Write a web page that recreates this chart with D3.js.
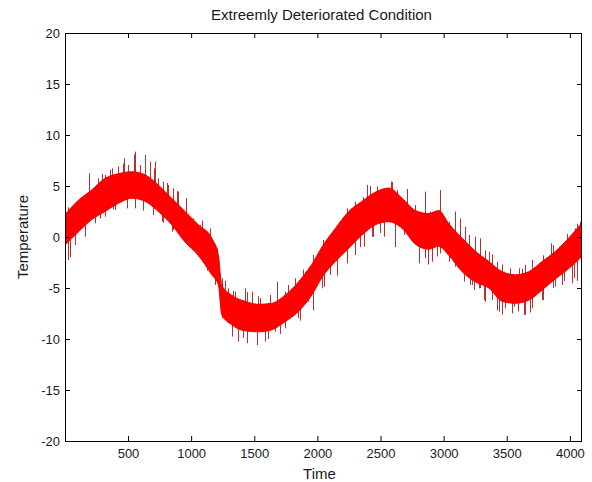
<!DOCTYPE html>
<html>
<head>
<meta charset="utf-8">
<script src="https://cdn.jsdelivr.net/npm/d3@7"></script>
<style>
  html, body { margin: 0; padding: 0; background: #fff; }
  svg { display: block; }
  text { font-family: "Liberation Sans", Arial, sans-serif; fill: #1a1a1a; }
</style>
</head>
<body>
<svg id="chart" width="592" height="482"></svg>
<script>
// ---- data ----
const titleText = "Extreemly Deteriorated Condition";
const xLabel = "Time";
const yLabel = "Temperature";
const xTicks = [500, 1000, 1500, 2000, 2500, 3000, 3500, 4000];
const yTicks = [-20, -15, -10, -5, 0, 5, 10, 15, 20];

// dense band of the noisy signal: sample times and the core band's upper / lower edges
const bandTimes = [1, 107, 212, 318, 424, 529, 635, 740, 846, 952, 1057, 1163, 1216, 1242, 1321, 1427, 1533, 1638, 1744, 1850, 1955, 2040, 2143, 2248, 2354, 2460, 2565, 2671, 2776, 2882, 2961, 3041, 3146, 3252, 3358, 3463, 3569, 3674, 3780, 3886, 3991, 4096];
const bandUpper = [2.2, 3.6, 4.6, 5.75, 6.2, 6.4, 6.1, 5.1, 3.8, 2.5, 1.2, -0.1, -1.8, -4.7, -5.7, -6.3, -6.6, -6.5, -5.7, -4.4, -2.7, -0.9, 0.85, 2.5, 3.5, 4.4, 4.8, 3.8, 2.6, 2.3, 2.6, 1.3, -0.1, -1.4, -2.4, -3.4, -3.7, -3.4, -2.4, -1.4, -0.1, 1.4];
const bandLower = [-0.8, 0.5, 1.7, 2.5, 3.3, 3.8, 3.5, 2.5, 1.2, -0.5, -1.8, -3.7, -4.7, -7.6, -8.6, -9.2, -9.3, -9.1, -8.3, -7.3, -5.7, -3.9, -2.4, -1.1, 0.2, 1.2, 1.5, 0.85, -0.7, -1.2, -0.9, -1.8, -3.4, -4.4, -5.0, -6.3, -6.5, -6.2, -5.2, -4.1, -3.1, -1.9];

// isolated noise spikes that stick out of the band: time and value
const spikeTimes = [
  67, 120, 191, 265, 318, 371, 424, 471, 503, 556, 595, 635, 674, 709, 740, 780, 820, 859, 899, 957, 1018, 1071, 1150, 1203,
  1242, 1295, 1348, 1427, 1480, 1546, 1625, 1683, 1744, 1823, 1903, 1969, 2048,
  27, 80, 159, 239, 318, 397, 490, 556, 622, 701, 767, 846, 925, 991, 1057, 1137, 1189,
  1242, 1321, 1374, 1440, 1520, 1586, 1665, 1744, 1850, 1929, 2035,
  2090, 2156, 2235, 2301, 2394, 2420, 2473, 2526, 2584, 2631, 2710, 2776, 2850, 2895, 2975, 3041, 3093, 3133,
  3199, 3252, 3291, 3358, 3423, 3476, 3529, 3595, 3648, 3701, 3767, 3854, 3912, 3991, 4044, 4084,
  2050, 2103, 2156, 2235, 2301, 2367, 2433, 2526, 2618, 2684, 2750, 2808, 2856, 2909, 2975, 3041, 3093,
  3159, 3225, 3278, 3331, 3384, 3437, 3490, 3556, 3635, 3701, 3780, 3886, 3938, 4018,
  27, 194, 292, 358, 463, 548, 714, 806, 886, 960, 1084,
  41, 278, 384, 622, 780, 859, 1137,
  1269, 1335, 1440, 1533, 1683, 1771, 1884, 2061, 2153, 2259, 2365,
  1124, 1322, 1414, 1612, 1705, 1863, 1969, 2153, 2233, 2338, 2444,
  2418, 2471, 2589, 2708, 2853, 2972, 3250, 3329,
  2497, 2616, 2801, 2880, 2946, 3210, 3289,
  3171, 3382, 3461, 3620, 3699, 3791, 3870, 3976, 4055,
  3237, 3316, 3421, 3461, 3540, 3593, 3646, 3686, 3791, 3870, 3950, 4029, 4055];
const spikeValues = [
  2.97, 3.46, 6.24, 5.75, 6.08, 6.73, 6.90, 7.71, 7.06, 8.37, 7.06, 8.04, 7.39, 6.73, 5.75, 5.43, 5.10, 4.77, 4.45, 3.79, 1.83, 1.18, 0.85, -1.11,
  -4.05, -5.03, -5.36, -5.03, -5.36, -6.01, -5.69, -4.38, -5.36, -4.05, -3.40, -1.76, -0.29,
  -2.25, -0.78, 0.03, 1.34, 1.99, 2.65, 2.81, 2.81, 2.97, 2.16, 1.50, 0.52, 0.20, -0.78, -1.93, -2.74, -4.71,
  -7.97, -9.77, -10.26, -10.42, -10.59, -10.26, -9.28, -8.95, -7.97, -6.34, -5.03,
  -0.13, 1.18, 2.81, 3.47, 5.10, 4.94, 4.94, 4.45, 5.43, 4.61, 4.61, 3.14, 4.45, 2.49, 4.61, 1.50, 2.49, 1.83,
  0.20, 0.03, -0.13, -1.44, -2.42, -3.40, -3.07, -3.07, -2.74, -2.25, -2.58, -0.62, -0.95, -0.13, 0.85, 1.50,
  -4.87, -3.72, -3.72, -2.58, -1.76, -0.95, 0.03, 0.03, -0.95, 0.20, -0.46, -2.58, -2.09, -2.42, -1.60, -2.42, -2.91,
  -4.38, -4.70, -5.03, -6.34, -6.17, -7.32, -6.99, -6.83, -7.65, -6.99, -6.17, -4.87, -4.70, -4.54,
  2.9, 5.3, 6.2, 6.6, 7.2, 8.1, 7.4, 5.3, 4.5, 3.5, 1.6,
  -2.0, 1.8, 2.7, 2.6, 1.4, 0.7, -2.9,
  -4.3, -5.3, -5.4, -5.8, -4.6, -4.7, -3.2, -0.4, 0.8, 2.6, 3.9,
  -3.3, -9.6, -9.9, -10.0, -9.5, -8.2, -7.2, -3.8, -2.5, -1.0, 0.0,
  5.0, 4.9, 5.4, 4.7, 4.3, 4.6, -0.2, -1.3,
  0.4, -1.0, -2.4, -2.7, -1.9, -4.7, -5.0,
  1.0, -1.7, -2.7, -3.1, -2.7, -1.8, -0.8, 0.3, 1.3,
  -5.2, -6.2, -7.2, -7.6, -7.5, -7.3, -7.6, -7.4, -6.2, -5.0, -4.3, -4.0, -4.3];

// ---- drawing ----
const plotL = 65, plotR = 582, plotT = 33, plotB = 441;
const svg = d3.select("#chart");

const x = d3.scaleLinear().domain([1, 4096]).range([plotL, plotR]);
const y = d3.scaleLinear().domain([-20, 20]).range([plotB, plotT]);

svg.append("clipPath").attr("id", "clip")
  .append("rect").attr("x", plotL).attr("y", plotT).attr("width", plotR - plotL).attr("height", plotB - plotT);

const bandData = bandTimes.map((t, i) => ({ t, hi: bandUpper[i], lo: bandLower[i] }));
const mid = d3.scaleLinear().domain(bandTimes).range(bandTimes.map((t, i) => (bandUpper[i] + bandLower[i]) / 2));

const g = svg.append("g").attr("clip-path", "url(#clip)");

g.selectAll("line.spike")
  .data(spikeTimes.map((t, i) => ({ t, v: spikeValues[i] })))
  .join("line").attr("class", "spike")
  .attr("x1", d => Math.round(x(d.t)) + 0.5).attr("x2", d => Math.round(x(d.t)) + 0.5)
  .attr("y1", d => y(mid(d.t))).attr("y2", d => y(d.v))
  .attr("stroke", "#b8302f").attr("stroke-width", 1);

g.append("path")
  .datum(bandData)
  .attr("d", d3.area().x(d => x(d.t)).y0(d => y(d.lo)).y1(d => y(d.hi)).curve(d3.curveMonotoneX))
  .attr("fill", "#ff0000")
  .attr("stroke", "#f00000")
  .attr("stroke-width", 1);

// axes (MATLAB-style box with inward ticks)
const tickFont = "13px";
const labelFont = "15px";
const fmt = d => String(d);
const axB = svg.append("g").attr("transform", `translate(0,${plotB})`)
  .call(d3.axisBottom(x).tickValues(xTicks).tickFormat(fmt).tickSizeInner(-5).tickSizeOuter(0).tickPadding(8));
const axT = svg.append("g").attr("transform", `translate(0,${plotT})`)
  .call(d3.axisTop(x).tickValues(xTicks).tickSizeInner(-5).tickSizeOuter(0).tickFormat(""));
const axL = svg.append("g").attr("transform", `translate(${plotL},0)`)
  .call(d3.axisLeft(y).tickValues(yTicks).tickFormat(fmt).tickSizeInner(-5).tickSizeOuter(0).tickPadding(5));
const axR = svg.append("g").attr("transform", `translate(${plotR},0)`)
  .call(d3.axisRight(y).tickValues(yTicks).tickSizeInner(-5).tickSizeOuter(0).tickFormat(""));

[axB, axT, axL, axR].forEach(a => {
  a.select(".domain").remove();
  a.selectAll(".tick line").attr("stroke", "#000");
  a.selectAll(".tick text").attr("font-size", tickFont).attr("fill", "#1a1a1a")
    .attr("font-family", '"Liberation Sans", Arial, sans-serif');
});

svg.append("rect")
  .attr("x", plotL + 0.5).attr("y", plotT + 0.5)
  .attr("width", plotR - plotL - 1).attr("height", plotB - plotT)
  .attr("fill", "none").attr("stroke", "#000").attr("stroke-width", 1);

svg.append("text")
  .attr("x", (plotL + plotR) / 2 - 2).attr("y", 20)
  .attr("text-anchor", "middle").attr("font-size", labelFont)
  .text(titleText);

svg.append("text")
  .attr("x", (plotL + plotR) / 2 - 4).attr("y", 479)
  .attr("text-anchor", "middle").attr("font-size", labelFont)
  .text(xLabel);

svg.append("text")
  .attr("transform", `translate(28,${(plotT + plotB) / 2}) rotate(-90)`)
  .attr("text-anchor", "middle").attr("font-size", labelFont)
  .text(yLabel);
</script>
</body>
</html>
